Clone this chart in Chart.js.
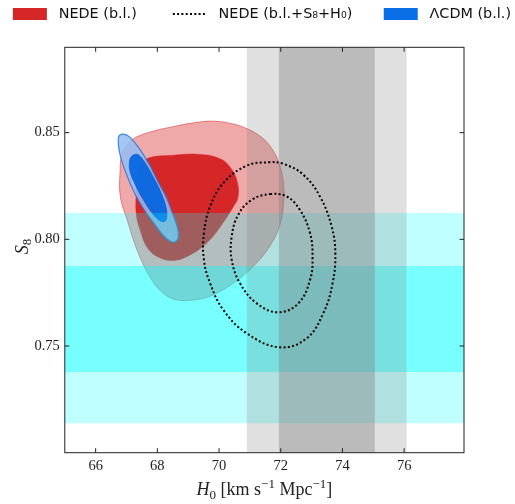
<!DOCTYPE html>
<html><head><meta charset="utf-8">
<script src="https://cdn.jsdelivr.net/npm/chart.js@4"></script>
<style>html,body{margin:0;padding:0;background:#fff;}#wrap{width:515px;height:504px;}</style>
</head><body><div id="wrap"><canvas id="c" width="515" height="504"></canvas></div>
<script>
// ---- axis setup ----
const xTicks = [66, 68, 70, 72, 74, 76];
const yTicks = [0.75, 0.80, 0.85];
const xRange = [65, 77.94];
const yRange = [0.70, 0.89];

// ---- external priors (bands) ----
const h0BandInner = [71.94, 75.05];
const h0BandOuter = [70.90, 76.08];
const s8BandInner = [0.7378, 0.7875];
const s8BandOuter = [0.7138, 0.8123];

// ---- NEDE (b.l.) contours ----
const nedeOuterH0 = [66.79, 66.85, 67.08, 67.34, 67.92, 68.51, 69.22, 69.80, 70.42, 70.90, 71.39, 71.71, 71.94, 72.09, 72.07, 71.94, 71.65, 71.13, 70.48, 69.80, 69.28, 68.64, 68.18, 67.76, 67.34, 67.02, 66.80];
const nedeOuterS8 = [0.8317, 0.8397, 0.8453, 0.8481, 0.8509, 0.8528, 0.8547, 0.8554, 0.8542, 0.8519, 0.8477, 0.8425, 0.8359, 0.8256, 0.8138, 0.8054, 0.7969, 0.7876, 0.7796, 0.7739, 0.7718, 0.7716, 0.7749, 0.7824, 0.7951, 0.8092, 0.8200];
const nedeInnerH0 = [67.34, 67.47, 67.76, 68.51, 69.28, 70.03, 70.42, 70.61, 70.61, 70.48, 70.06, 69.61, 69.06, 68.51, 67.99, 67.66, 67.44, 67.32, 67.31];
const nedeInnerS8 = [0.8303, 0.8354, 0.8383, 0.8394, 0.8399, 0.8378, 0.8326, 0.8256, 0.8195, 0.8157, 0.8063, 0.7984, 0.7927, 0.7901, 0.7920, 0.7965, 0.8045, 0.8115, 0.8209];

// ---- LCDM (b.l.) contours ----
const lcdmOuterH0 = [66.74, 66.89, 67.11, 67.44, 67.76, 68.02, 68.28, 68.47, 68.64, 68.68, 68.57, 68.38, 68.15, 67.86, 67.53, 67.24, 66.98, 66.79];
const lcdmOuterS8 = [0.8477, 0.8493, 0.8479, 0.8420, 0.8345, 0.8270, 0.8200, 0.8129, 0.8059, 0.8012, 0.7988, 0.7995, 0.8026, 0.8082, 0.8148, 0.8223, 0.8312, 0.8397];
const lcdmInnerH0 = [67.11, 67.21, 67.37, 67.60, 67.86, 68.09, 68.25, 68.31, 68.25, 68.09, 67.83, 67.53, 67.27, 67.11];
const lcdmInnerS8 = [0.8373, 0.8394, 0.8397, 0.8359, 0.8293, 0.8228, 0.8167, 0.8115, 0.8085, 0.8087, 0.8124, 0.8190, 0.8261, 0.8322];

// ---- NEDE (b.l.+S8+H0) contours (dotted) ----
const nedeFullOuterH0 = [71.59, 72.08, 72.73, 73.27, 73.65, 73.77, 73.68, 73.38, 72.84, 71.97, 70.89, 70.14, 69.71, 69.51, 69.51, 69.71, 70.14, 70.89];
const nedeFullOuterS8 = [0.8361, 0.8354, 0.8303, 0.8201, 0.8060, 0.7935, 0.7794, 0.7654, 0.7536, 0.7494, 0.7560, 0.7669, 0.7794, 0.7904, 0.8029, 0.8154, 0.8264, 0.8345];
const nedeFullInnerH0 = [71.65, 72.19, 72.62, 72.95, 73.03, 72.95, 72.57, 71.92, 71.22, 70.68, 70.41, 70.41, 70.62, 71.06];
const nedeFullInnerS8 = [0.8212, 0.8201, 0.8138, 0.8029, 0.7912, 0.7810, 0.7700, 0.7658, 0.7700, 0.7794, 0.7904, 0.8013, 0.8115, 0.8185];

// ---- legend texts ----
const legendTexts = ['NEDE (b.l.)', 'NEDE (b.l.+S₈+H₀)', 'ΛCDM (b.l.)'];

function pts(xs, ys) { return xs.map((x, i) => ({x: x, y: ys[i]})); }
function vband(r) { return [{x: r[0], y: yRange[0]}, {x: r[1], y: yRange[0]}, {x: r[1], y: yRange[1]}, {x: r[0], y: yRange[1]}]; }
function hband(r) { return [{x: xRange[0], y: r[0]}, {x: xRange[1], y: r[0]}, {x: xRange[1], y: r[1]}, {x: xRange[0], y: r[1]}]; }

const base = {pointRadius: 0, pointHoverRadius: 0};
const datasets = [
  Object.assign({data: pts(nedeFullOuterH0, nedeFullOuterS8), borderColor: '#000', borderWidth: 2, borderDash: [2, 2.3], fill: false, tension: 0.4, closed: true, order: 0}, base),
  Object.assign({data: pts(nedeFullInnerH0, nedeFullInnerS8), borderColor: '#000', borderWidth: 2, borderDash: [2, 2.3], fill: false, tension: 0.4, closed: true, order: 0}, base),
  Object.assign({data: vband(h0BandInner), backgroundColor: 'rgba(128,128,128,0.385)', borderWidth: 0, fill: 'shape', tension: 0, order: 1}, base),
  Object.assign({data: vband(h0BandOuter), backgroundColor: 'rgba(128,128,128,0.245)', borderWidth: 0, fill: 'shape', tension: 0, order: 2}, base),
  Object.assign({data: hband(s8BandInner), backgroundColor: 'rgba(0,255,255,0.38)', borderWidth: 0, fill: 'shape', tension: 0, order: 3}, base),
  Object.assign({data: hband(s8BandOuter), backgroundColor: 'rgba(0,255,255,0.25)', borderWidth: 0, fill: 'shape', tension: 0, order: 4}, base),
  Object.assign({data: pts(lcdmInnerH0, lcdmInnerS8), backgroundColor: 'rgba(0,100,225,0.9)', borderColor: 'rgba(0,90,210,0.9)', borderWidth: 0.8, fill: 'shape', tension: 0.4, closed: true, order: 5}, base),
  Object.assign({data: pts(lcdmOuterH0, lcdmOuterS8), backgroundColor: 'rgba(147,189,243,0.85)', borderColor: 'rgba(40,120,225,0.85)', borderWidth: 1.2, fill: 'shape', tension: 0.4, closed: true, order: 6}, base),
  Object.assign({data: pts(nedeInnerH0, nedeInnerS8), backgroundColor: '#d62728', borderColor: '#d62728', borderWidth: 0.5, fill: 'shape', tension: 0.4, closed: true, order: 7}, base),
  Object.assign({data: pts(nedeOuterH0, nedeOuterS8), backgroundColor: '#efa9a9', borderColor: 'rgba(214,39,40,0.5)', borderWidth: 1, fill: 'shape', tension: 0.4, closed: true, order: 8}, base)
];

const loopPlugin = {
  id: 'loop',
  beforeDatasetsUpdate(chart) {
    chart.data.datasets.forEach((ds, i) => {
      if (ds.closed) {
        const m = chart.getDatasetMeta(i);
        if (m.dataset) { m.dataset._loop = true; m.dataset._fullLoop = true; }
      }
    });
  }
};

const SERIF = '"Liberation Serif", "DejaVu Serif", serif';
function drawParts(ctx, parts, x, y, align) {
  let total = 0;
  parts.forEach(p => { ctx.font = p.f; p.w = ctx.measureText(p.t).width; total += p.w; });
  let cx = align === 'center' ? x - total / 2 : x;
  parts.forEach(p => { ctx.font = p.f; ctx.fillText(p.t, cx, y + (p.dy || 0)); cx += p.w; });
}

const framePlugin = {
  id: 'frame',
  afterDraw(chart) {
    const ctx = chart.ctx, a = chart.chartArea;
    const xs = chart.scales.x, ys = chart.scales.y;
    ctx.save();
    ctx.strokeStyle = '#222';
    ctx.lineWidth = 1;
    ctx.strokeRect(a.left, a.top, a.right - a.left, a.bottom - a.top);
    const L = 4.5;
    ctx.beginPath();
    xTicks.forEach(v => {
      const px = xs.getPixelForValue(v);
      ctx.moveTo(px, a.bottom); ctx.lineTo(px, a.bottom - L);
      ctx.moveTo(px, a.top); ctx.lineTo(px, a.top + L);
    });
    yTicks.forEach(v => {
      const py = ys.getPixelForValue(v);
      ctx.moveTo(a.left, py); ctx.lineTo(a.left + L, py);
      ctx.moveTo(a.right, py); ctx.lineTo(a.right - L, py);
    });
    ctx.stroke();
    // axis titles
    ctx.fillStyle = '#222';
    ctx.textBaseline = 'alphabetic';
    ctx.textAlign = 'left';
    const big = '18px ' + SERIF, bigI = 'italic 18px ' + SERIF, sm = '13px ' + SERIF;
    drawParts(ctx, [
      {t: 'H', f: bigI}, {t: '0', f: sm, dy: 3.5}, {t: ' [km s', f: big}, {t: '−1', f: sm, dy: -7},
      {t: ' Mpc', f: big}, {t: '−1', f: sm, dy: -7}, {t: ']', f: big}
    ], (a.left + a.right) / 2, 495, 'center');
    ctx.translate(28, 246.5);
    ctx.rotate(-Math.PI / 2);
    drawParts(ctx, [{t: 'S', f: 'italic 18px ' + SERIF}, {t: '8', f: sm, dy: 3}], 0, 0, 'center');
    ctx.restore();
  }
};

const tickFont = {family: SERIF, size: 14.5};
new Chart(document.getElementById('c'), {
  type: 'line',
  data: {datasets: datasets},
  plugins: [loopPlugin, framePlugin],
  options: {
    responsive: false,
    devicePixelRatio: 1,
    animation: false,
    events: [],
    layout: {padding: {left: 0, right: 0, top: 2.8, bottom: 0}},
    plugins: {
      tooltip: {enabled: false},
      legend: {
        display: true,
        position: 'top',
        align: 'end',
        labels: {
          usePointStyle: true,
          pointStyleWidth: 34,
          boxHeight: 12,
          padding: 4,
          color: '#111',
          font: {family: '"DejaVu Sans", sans-serif', size: 14.4},
          generateLabels: () => [
            {text: ' ' + legendTexts[0] + '       ', fillStyle: '#d62728', strokeStyle: '#d62728', lineWidth: 0, pointStyle: 'rect', hidden: false, fontColor: '#111'},
            {text: ' ' + legendTexts[1] + '      ', fillStyle: 'rgba(0,0,0,0)', strokeStyle: '#000', lineWidth: 2, lineDash: [2, 2.3], pointStyle: 'line', hidden: false, fontColor: '#111'},
            {text: ' ' + legendTexts[2], fillStyle: '#0a6fe6', strokeStyle: '#0a6fe6', lineWidth: 0, pointStyle: 'rect', hidden: false, fontColor: '#111'}
          ]
        },
        onClick: () => {}
      }
    },
    scales: {
      x: {
        type: 'linear', position: 'bottom', min: xRange[0], max: xRange[1],
        afterBuildTicks: s => { s.ticks = xTicks.map(v => ({value: v})); },
        afterFit: s => { s.height = 51.3; },
        grid: {display: false, drawTicks: false}, border: {display: false},
        ticks: {padding: 5, color: '#222', font: tickFont, maxRotation: 0, autoSkip: false, callback: v => String(v)}
      },
      xt: {
        type: 'linear', position: 'top', axis: 'x', min: xRange[0], max: xRange[1],
        afterFit: s => { s.height = 16.1; },
        grid: {display: false, drawTicks: false}, border: {display: false},
        ticks: {display: false}
      },
      y: {
        type: 'linear', position: 'left', min: yRange[0], max: yRange[1],
        afterBuildTicks: s => { s.ticks = yTicks.map(v => ({value: v})); },
        afterFit: s => { s.width = 64.8; },
        grid: {display: false, drawTicks: false}, border: {display: false},
        ticks: {padding: 5, color: '#222', font: tickFont, autoSkip: false, callback: v => v.toFixed(2)}
      },
      yr: {
        type: 'linear', position: 'right', axis: 'y', min: yRange[0], max: yRange[1],
        afterFit: s => { s.width = 51; },
        grid: {display: false, drawTicks: false}, border: {display: false},
        ticks: {display: false}
      }
    }
  }
});
</script></body></html>
